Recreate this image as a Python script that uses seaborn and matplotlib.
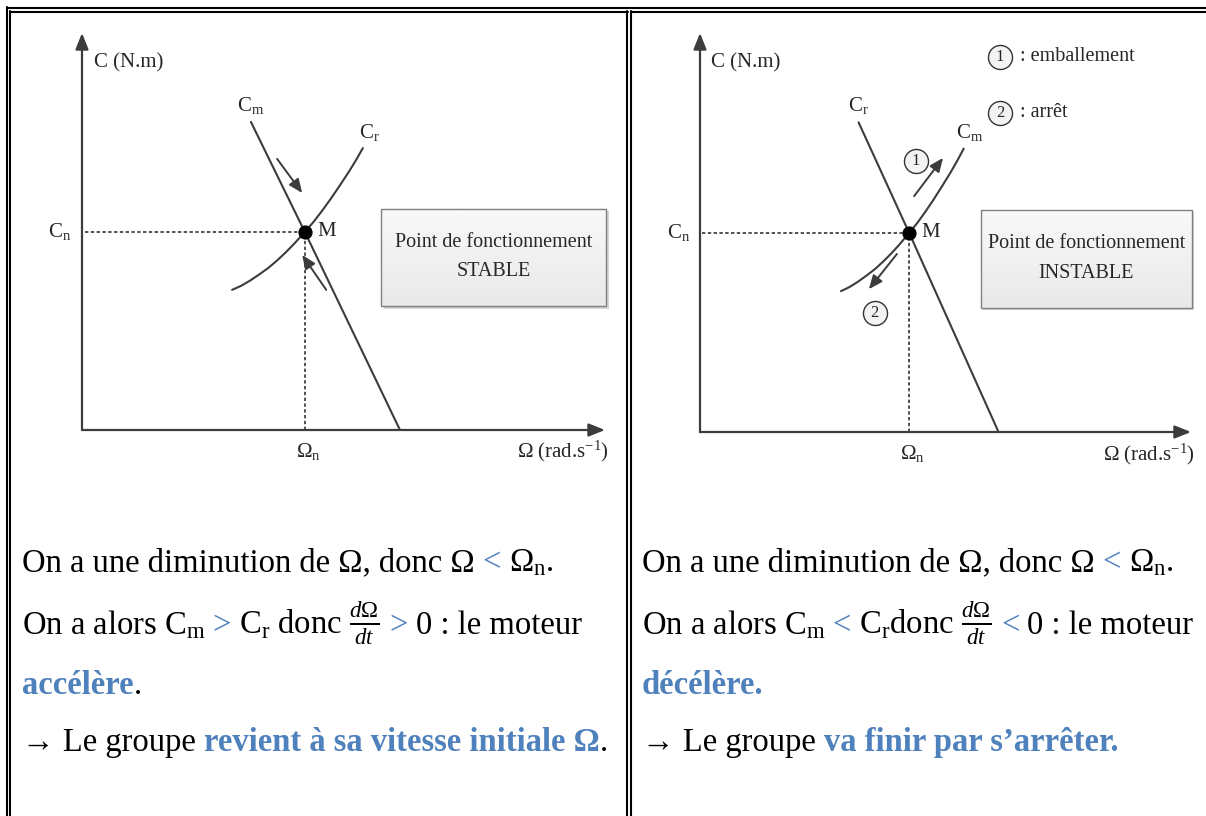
import matplotlib
matplotlib.use("Agg")
import matplotlib.pyplot as plt
import seaborn as sns
import numpy as np
import pandas as pd
from matplotlib.lines import Line2D
from matplotlib.patches import Rectangle
from matplotlib.colors import LinearSegmentedColormap

sns.set_style("white")
plt.rcParams['font.family'] = ['Liberation Serif', 'DejaVu Serif']
plt.rcParams['mathtext.fontset'] = 'custom'
plt.rcParams['mathtext.rm'] = 'Liberation Serif'
plt.rcParams['mathtext.it'] = 'Liberation Serif:italic'
plt.rcParams['mathtext.bf'] = 'Liberation Serif:bold'

# ---------------- data (conceptual units, axis tips at 10) ----------------
omega_n = 4.26
c_n = 4.99
falling_omega = [3.23, 4.26, 6.08]
falling_torque = [7.76, 4.99, 0.0]
rising_omega = [2.87, 3.04, 3.21, 3.38, 3.56, 3.73, 3.90, 4.07, 4.26,
                4.42, 4.59, 4.76, 4.93, 5.11, 5.24, 5.37]
rising_torque = [3.53, 3.63, 3.76, 3.91, 4.08, 4.27, 4.48, 4.71, 4.99,
                 5.23, 5.52, 5.83, 6.16, 6.52, 6.80, 7.10]

stable_arrows = [((3.73, 6.83), (4.21, 5.97)), ((4.67, 3.53), (4.21, 4.41))]
unstable_arrows = [((4.36, 5.91), (4.95, 6.87)), ((4.01, 4.46), (3.44, 3.58))]
unstable_marks = [(4.40, 6.79, "1"), (3.56, 2.98, "2")]
legend_marks = [(6.11, 9.40, "1", ": emballement"), (6.11, 8.00, "2", ": arrêt")]

box_omega = (5.72, 10.02)
box_torque = (3.12, 5.57)

panel_titles = ["STABLE", "INSTABLE"]
falling_names = [r"$\mathrm{C_m}$", r"$\mathrm{C_r}$"]
rising_names = [r"$\mathrm{C_r}$", r"$\mathrm{C_m}$"]

BLUE = "#4f81bd"
DARK = "#3c3c3c"
W, H = 1206, 816

fig = plt.figure(figsize=(W / 100, H / 100), dpi=100)
fig.patch.set_facecolor("white")


def px_rect(x0, y0, x1, y1):
    return [x0 / W, 1 - y0 / H, (x1 - x0) / W, (y0 - y1) / H]


axes_rects = [px_rect(82, 430, 605, 33), px_rect(700, 432, 1191, 33)]

grad_cmap = LinearSegmentedColormap.from_list("g", ["#e9e9e9", "#f9f9f9"])

for i, rect in enumerate(axes_rects):
    ax = fig.add_axes(rect)
    ax.set_axis_off()
    # axes arrows
    for tip in [(10, 0), (0, 10)]:
        ax.annotate("", xy=tip, xytext=(0, 0), annotation_clip=False,
                    arrowprops=dict(arrowstyle="-|>,head_length=0.7,head_width=0.28",
                                    color=DARK, lw=1.6, shrinkA=0, shrinkB=0,
                                    mutation_scale=14))
    # dashed guides
    ax.plot([0.05, omega_n], [c_n, c_n], color="#222222", lw=1.1, ls=(0, (2.2, 1.6)))
    ax.plot([omega_n, omega_n], [0, c_n], color="#222222", lw=1.1, ls=(0, (2.2, 1.6)))
    # curves
    df_fall = pd.DataFrame({"omega": falling_omega, "torque": falling_torque})
    df_rise = pd.DataFrame({"omega": rising_omega, "torque": rising_torque})
    sns.lineplot(data=df_fall, x="omega", y="torque", ax=ax, color=DARK, lw=1.5,
                 sort=False, estimator=None)
    sns.lineplot(data=df_rise, x="omega", y="torque", ax=ax, color=DARK, lw=1.5,
                 sort=False, estimator=None)
    ax.scatter([omega_n], [c_n], s=85, color="black", zorder=6)
    # labels
    ax.text(-0.21, c_n, r"$\mathrm{C_n}$", ha="right", va="center", fontsize=15)
    ax.text(omega_n + 0.06, -0.55, r"$\Omega_\mathrm{n}$", ha="center", va="center", fontsize=15)
    ax.text(10.08, -0.55, r"Ω (rad.$\mathrm{s}^{-1}$)", ha="right", va="center", fontsize=15)
    ax.text(0.22, 9.25, "C (N.m)", ha="left", va="center", fontsize=15)
    ax.text(4.50, c_n, "M", ha="left", va="center", fontsize=15)
    ax.text(falling_omega[0], 8.18, falling_names[i], ha="center", va="center", fontsize=15)
    ax.text(rising_omega[-1] + 0.13, 7.50, rising_names[i], ha="center", va="center", fontsize=15)
    # arrows on the curves
    arrows = stable_arrows if i == 0 else unstable_arrows
    for (start, end) in arrows:
        ax.annotate("", xy=end, xytext=start,
                    arrowprops=dict(arrowstyle="-|>,head_length=0.75,head_width=0.32",
                                    color=DARK, lw=1.4, shrinkA=0, shrinkB=0,
                                    mutation_scale=11))
    # box
    bx0, bx1 = box_omega
    by0, by1 = box_torque
    ax.add_patch(Rectangle((bx0 + 0.05, by0 - 0.06), bx1 - bx0, by1 - by0,
                           facecolor="#d4d4d4", edgecolor="none", clip_on=False, zorder=2))
    grad = np.linspace(0, 1, 64).reshape(-1, 1)
    ax.imshow(grad, extent=[bx0, bx1, by0, by1], origin="lower", cmap=grad_cmap,
              aspect="auto", clip_on=False, zorder=3)
    ax.add_patch(Rectangle((bx0, by0), bx1 - bx0, by1 - by0, facecolor="none",
                           edgecolor="#808080", lw=1.0, clip_on=False, zorder=4))
    cx = (bx0 + bx1) / 2
    ax.text(cx, 4.72, "Point de fonctionnement", ha="center", va="center", fontsize=14.5, zorder=5)
    ax.text(cx, 3.98, panel_titles[i], ha="center", va="center", fontsize=14.5, zorder=5)
    if i == 1:
        for (x, y, n) in unstable_marks:
            ax.scatter([x], [y], s=300, facecolor="#f3f3f3", edgecolor="#333333",
                       linewidths=1.0, zorder=5)
            ax.text(x, y, n, ha="center", va="center", fontsize=12, zorder=6)
        for (x, y, n, lab) in legend_marks:
            ax.scatter([x], [y], s=300, facecolor="#f3f3f3", edgecolor="#333333",
                       linewidths=1.0, zorder=5, clip_on=False)
            ax.text(x, y, n, ha="center", va="center", fontsize=12, zorder=6)
            ax.text(x + 0.40, y, lab, ha="left", va="center", fontsize=14.5)
    ax.set_xlim(0, 10)
    ax.set_ylim(0, 10)

# ---------------- table borders ----------------
def hline(y, x0, x1):
    fig.add_artist(Line2D([x0 / W, x1 / W], [1 - y / H, 1 - y / H],
                          transform=fig.transFigure, color="black", lw=1.5))


def vline(x, y0, y1):
    fig.add_artist(Line2D([x / W, x / W], [1 - y0 / H, 1 - y1 / H],
                          transform=fig.transFigure, color="black", lw=1.5))


hline(7.5, 6.5, W)
hline(11.5, 9.5, 627.5)
hline(11.5, 630.5, W)
vline(7, 7, H)
vline(10, 11, H)
vline(627, 11, H)
vline(631, 11, H)

# ---------------- rich text lines ----------------
renderer = fig.canvas.get_renderer()
FS = 23.5


def measure(s, weight):
    t = fig.text(0, 0, s, fontsize=FS, fontweight=weight)
    w = t.get_window_extent(renderer).width
    t.remove()
    return w


def seg_width(s, weight):
    return measure("|" + s + "|", weight) - measure("||", weight)


def draw_line(x, y, segments):
    for s, color, weight in segments:
        stripped = s.lstrip(" ")
        lead = seg_width(s, weight) - seg_width(stripped, weight)
        fig.text((x + lead) / W, 1 - y / H, stripped, fontsize=FS, color=color,
                 fontweight=weight, ha="left", va="baseline")
        x += seg_width(s, weight)


K = "black"
FRAC = r"$\frac{d\mathit{Ω}}{dt}$"
line1 = [("On a une diminution de Ω, donc Ω ", K, "normal"), ("<", BLUE, "normal"),
         (r" $\Omega_\mathrm{n}$.", K, "normal")]
left_lines = [
    line1,
    [(r"On a alors $\mathrm{C_m}$ ", K, "normal"), (">", BLUE, "normal"),
     (r" $\mathrm{C_r}$ donc " + FRAC + " ", K, "normal"), (">", BLUE, "normal"),
     (" 0 : le moteur", K, "normal")],
    [("accélère", BLUE, "bold"), (".", K, "normal")],
    [("→ Le groupe ", K, "normal"), ("revient à sa vitesse initiale Ω", BLUE, "bold"),
     (".", K, "normal")],
]
right_lines = [
    line1,
    [(r"On a alors $\mathrm{C_m}$ ", K, "normal"), ("<", BLUE, "normal"),
     (r" $\mathrm{C_r}$donc " + FRAC + " ", K, "normal"), ("<", BLUE, "normal"),
     (" 0 : le moteur", K, "normal")],
    [("décélère.", BLUE, "bold")],
    [("→ Le groupe ", K, "normal"), ("va finir par s’arrêter.", BLUE, "bold")],
]
baselines = [571, 634, 694, 751]
for segs, yb in zip(left_lines, baselines):
    draw_line(22, yb, segs)
for segs, yb in zip(right_lines, baselines):
    draw_line(642, yb, segs)

fig.savefig("out.png", dpi=100, facecolor="white")
